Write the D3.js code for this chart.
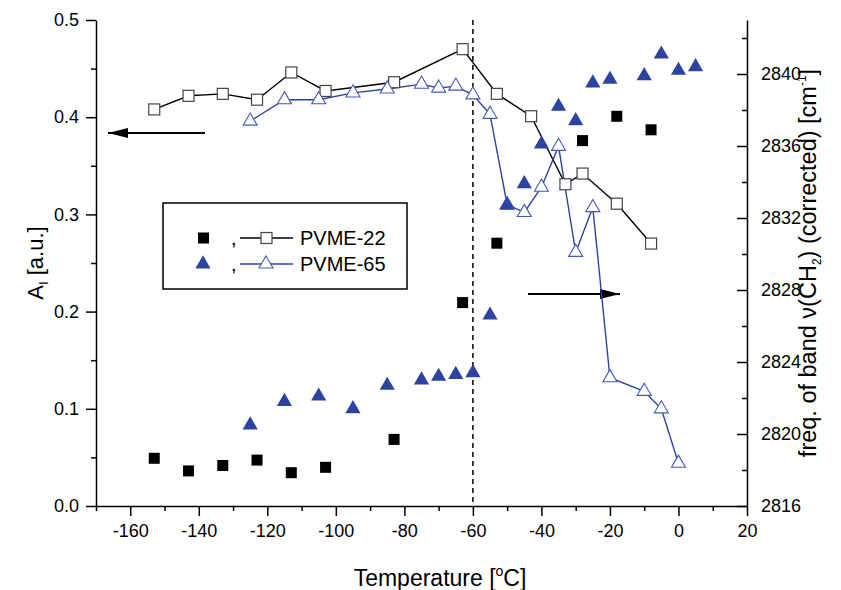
<!DOCTYPE html>
<html>
<head>
<meta charset="utf-8">
<script src="https://cdn.jsdelivr.net/npm/d3@7"></script>
<style>
  html, body { margin: 0; padding: 0; background: #fff; }
  svg { display: block; font-family: "Liberation Sans", Arial, sans-serif; }
  .axis path, .axis line { stroke: #000; stroke-width: 1.5; }
  .axis text { font-size: 18px; fill: #000; font-family: "Liberation Sans", Arial, sans-serif; }
</style>
</head>
<body>
<svg id="chart" width="841" height="590"></svg>
<script>
// PVME-22 filled squares (right axis, freq.)
const sqFilledT = [-153, -143, -133, -123, -113, -103, -83, -63, -53, -28, -18, -8];
const sqFilledV = [2818.65, 2817.95, 2818.25, 2818.55, 2817.85, 2818.15, 2819.7, 2827.3, 2830.6, 2836.3, 2837.65, 2836.9];
// PVME-22 open squares (left axis, A_I)
const sqOpenT = [-153, -143, -133, -123, -113, -103, -83, -63, -53, -43, -33, -28, -18, -8];
const sqOpenV = [0.408, 0.422, 0.424, 0.418, 0.446, 0.427, 0.436, 0.470, 0.424, 0.401, 0.331, 0.342, 0.311, 0.270];
// PVME-65 filled triangles (right axis)
const triFilledT = [-125, -115, -105, -95, -85, -75, -70, -65, -60, -55, -50, -45, -40, -35, -30, -25, -20, -10, -5, 0, 5];
const triFilledV = [2820.5, 2821.8, 2822.1, 2821.4, 2822.7, 2823.0, 2823.2, 2823.3, 2823.4, 2826.6, 2832.7, 2833.9, 2836.1, 2838.2, 2837.4, 2839.5, 2839.7, 2839.9, 2841.1, 2840.2, 2840.4];
// PVME-65 open triangles (left axis)
const triOpenT = [-125, -115, -105, -95, -85, -75, -70, -65, -60, -55, -50, -45, -40, -35, -30, -25, -20, -10, -5, 0];
const triOpenV = [0.396, 0.418, 0.418, 0.425, 0.429, 0.434, 0.430, 0.432, 0.423, 0.403, 0.310, 0.302, 0.328, 0.370, 0.261, 0.307, 0.132, 0.118, 0.100, 0.044];

const xMajor = [-160, -140, -120, -100, -80, -60, -40, -20, 0, 20];
const xMinor = [-170, -150, -130, -110, -90, -70, -50, -30, -10, 10];
const yLMajor = [0, 0.1, 0.2, 0.3, 0.4, 0.5];
const yLMinor = [0.05, 0.15, 0.25, 0.35, 0.45];
const yRMajor = [2816, 2820, 2824, 2828, 2832, 2836, 2840];
const yRMinor = [2818, 2822, 2826, 2830, 2834, 2838, 2842];
const legendNames = ["PVME-22", "PVME-65"];

(() => {
  const black = "#000";
  const blue = "#2d43a0";
  const blueLight = "#4458bd";

  const svg = d3.select("#chart");
  const left = 96, right = 747, top = 20, bottom = 506;

  const x = d3.scaleLinear().domain([-170, 20]).range([left, right]);
  const yL = d3.scaleLinear().domain([0, 0.5]).range([bottom, top]);
  const yR = d3.scaleLinear().domain([2816, 2843]).range([bottom, top]);

  // arrow marker
  const defs = svg.append("defs");
  defs.append("marker")
    .attr("id", "arrow")
    .attr("viewBox", "0 0 20 10")
    .attr("refX", 20)
    .attr("refY", 5)
    .attr("markerUnits", "userSpaceOnUse")
    .attr("markerWidth", 20)
    .attr("markerHeight", 10)
    .attr("orient", "auto")
    .append("path")
    .attr("d", "M0,0L20,5L0,10Z")
    .attr("fill", black);

  // dashed line at -60
  svg.append("line")
    .attr("x1", x(-60)).attr("x2", x(-60))
    .attr("y1", top).attr("y2", bottom)
    .attr("stroke", black)
    .attr("stroke-width", 1.5)
    .attr("stroke-dasharray", "5 4");

  const hyphen = (d) => String(d).replace("\u2212", "-");

  // axes
  const gx = svg.append("g").attr("class", "axis").attr("transform", `translate(0,${bottom})`);
  gx.call(d3.axisBottom(x).tickValues(xMajor).tickSize(10).tickSizeOuter(0).tickPadding(8).tickFormat(hyphen));
  const gxm = svg.append("g").attr("class", "axis").attr("transform", `translate(0,${bottom})`);
  gxm.call(d3.axisBottom(x).tickValues(xMinor).tickSize(5).tickFormat(""));
  gxm.select(".domain").remove();

  const gl = svg.append("g").attr("class", "axis").attr("transform", `translate(${left},0)`);
  gl.call(d3.axisLeft(yL).tickValues(yLMajor).tickSize(10).tickSizeOuter(0).tickPadding(7).tickFormat(d3.format(".1f")));
  const glm = svg.append("g").attr("class", "axis").attr("transform", `translate(${left},0)`);
  glm.call(d3.axisLeft(yL).tickValues(yLMinor).tickSize(5).tickFormat(""));
  glm.select(".domain").remove();

  const gr = svg.append("g").attr("class", "axis").attr("transform", `translate(${right},0)`);
  gr.call(d3.axisRight(yR).tickValues(yRMajor).tickSize(-10).tickSizeOuter(0).tickPadding(14).tickFormat(d3.format("d")));
  const grm = svg.append("g").attr("class", "axis").attr("transform", `translate(${right},0)`);
  grm.call(d3.axisRight(yR).tickValues(yRMinor).tickSize(-5).tickFormat(""));
  grm.select(".domain").remove();

  // axis titles
  const xt = svg.append("text")
    .attr("x", 440)
    .attr("y", 586)
    .attr("text-anchor", "middle")
    .attr("font-size", 23)
    .text("Temperature [");
  xt.append("tspan").attr("font-size", 14).attr("dy", -10).text("o");
  xt.append("tspan").attr("dy", 10).text("C]");

  const yt = svg.append("text")
    .attr("transform", `translate(43,${(top + bottom) / 2}) rotate(-90)`)
    .attr("text-anchor", "middle")
    .attr("font-size", 22)
    .text("A");
  yt.append("tspan").attr("font-size", 13).attr("dy", 5).text("I");
  yt.append("tspan").attr("dy", -5).text(" [a.u.]");

  const rt = svg.append("text")
    .attr("transform", `translate(816,${(top + bottom) / 2}) rotate(-90)`)
    .attr("text-anchor", "middle")
    .attr("font-size", 23.5)
    .text("freq. of band \u03BD(CH");
  rt.append("tspan").attr("font-size", 12).attr("dy", 5).text("2");
  rt.append("tspan").attr("dy", -5).text(") (corrected) [cm");
  rt.append("tspan").attr("font-size", 12).attr("dy", -10).text("-1");
  rt.append("tspan").attr("dy", 10).text("]");

  // arrows
  svg.append("line")
    .attr("x1", 205).attr("x2", 108).attr("y1", 133).attr("y2", 133)
    .attr("stroke", black).attr("stroke-width", 2)
    .attr("marker-end", "url(#arrow)");
  svg.append("line")
    .attr("x1", 528).attr("x2", 620).attr("y1", 294).attr("y2", 294)
    .attr("stroke", black).attr("stroke-width", 2)
    .attr("marker-end", "url(#arrow)");

  const sqOpen = sqOpenT.map((t, i) => ({ t, v: sqOpenV[i] }));
  const sqFilled = sqFilledT.map((t, i) => ({ t, v: sqFilledV[i] }));
  const triOpen = triOpenT.map((t, i) => ({ t, v: triOpenV[i] }));
  const triFilled = triFilledT.map((t, i) => ({ t, v: triFilledV[i] }));

  const lineL = d3.line().x((d) => x(d.t)).y((d) => yL(d.v));

  svg.append("path").datum(sqOpen)
    .attr("fill", "none").attr("stroke", black).attr("stroke-width", 1.4).attr("d", lineL);
  svg.append("path").datum(triOpen)
    .attr("fill", "none").attr("stroke", blue).attr("stroke-width", 1.4).attr("d", lineL);

  const triSym = d3.symbol(d3.symbolTriangle).size(100);
  const triSymS = d3.symbol(d3.symbolTriangle).size(85);

  svg.selectAll("rect.sq-open").data(sqOpen).join("rect")
    .attr("class", "sq-open")
    .attr("x", (d) => x(d.t) - 5.5).attr("y", (d) => yL(d.v) - 5.5)
    .attr("width", 11).attr("height", 11)
    .attr("fill", "#fff").attr("stroke", "#444").attr("stroke-width", 1.2);

  svg.selectAll("path.tri-open").data(triOpen).join("path")
    .attr("class", "tri-open")
    .attr("transform", (d) => `translate(${x(d.t)},${yL(d.v)})`)
    .attr("d", triSymS)
    .attr("fill", "#fff").attr("stroke", blueLight).attr("stroke-width", 1.1);

  svg.selectAll("rect.sq-filled").data(sqFilled).join("rect")
    .attr("class", "sq-filled")
    .attr("x", (d) => x(d.t) - 5.5).attr("y", (d) => yR(d.v) - 5.5)
    .attr("width", 11).attr("height", 11)
    .attr("fill", black);

  svg.selectAll("path.tri-filled").data(triFilled).join("path")
    .attr("class", "tri-filled")
    .attr("transform", (d) => `translate(${x(d.t)},${yR(d.v)})`)
    .attr("d", triSym)
    .attr("fill", blue);

  // legend
  const lg = svg.append("g");
  lg.append("rect")
    .attr("x", 163).attr("y", 203).attr("width", 244).attr("height", 86)
    .attr("fill", "#fff").attr("stroke", black).attr("stroke-width", 1.5);

  const rows = [
    { y: 238, color: black, stroke: "#444" },
    { y: 264, color: blue, stroke: blueLight },
  ];
  rows.forEach((r, i) => {
    if (i === 0) {
      lg.append("rect").attr("x", 198).attr("y", r.y - 5.5).attr("width", 11).attr("height", 11).attr("fill", black);
    } else {
      lg.append("path").attr("transform", `translate(203,${r.y})`).attr("d", triSym).attr("fill", blue);
    }
    lg.append("text").attr("x", 231).attr("y", r.y + 7).attr("font-size", 20).text(",");
    lg.append("line").attr("x1", 240).attr("x2", 293).attr("y1", r.y).attr("y2", r.y)
      .attr("stroke", r.color).attr("stroke-width", 1.4);
    if (i === 0) {
      lg.append("rect").attr("x", 261).attr("y", r.y - 5.5).attr("width", 11).attr("height", 11)
        .attr("fill", "#fff").attr("stroke", r.stroke).attr("stroke-width", 1.2);
    } else {
      lg.append("path").attr("transform", `translate(266,${r.y})`).attr("d", triSymS)
        .attr("fill", "#fff").attr("stroke", r.stroke).attr("stroke-width", 1.1);
    }
    lg.append("text").attr("x", 300).attr("y", r.y + 7).attr("font-size", 20).text(legendNames[i]);
  });
})();
</script>
</body>
</html>
